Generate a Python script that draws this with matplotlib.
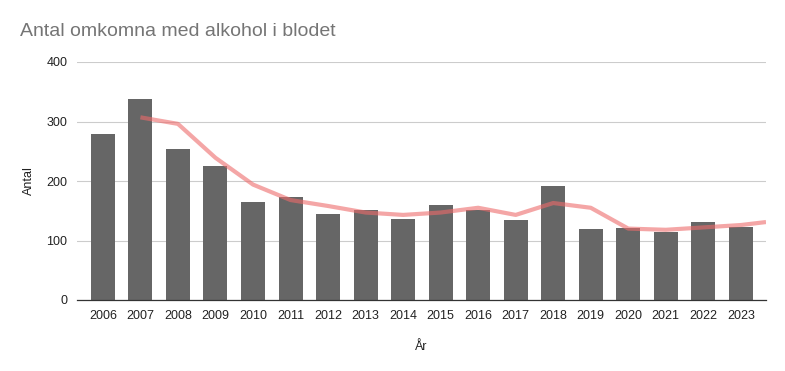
import matplotlib.pyplot as plt

plt.rcParams['font.family'] = ['Liberation Sans', 'DejaVu Sans']

years = ["2006", "2007", "2008", "2009", "2010", "2011", "2012", "2013", "2014",
         "2015", "2016", "2017", "2018", "2019", "2020", "2021", "2022", "2023"]
antal = [279, 338, 254, 225, 165, 173, 145, 151, 136,
         160, 151, 134, 192, 119, 121, 114, 131, 123]

# trendlinje (glidande medelvärde), avläst
trend_x = [1, 2, 3, 4, 5, 6, 7, 8, 9, 10, 11, 12, 13, 14, 15, 16, 17, 17.67]
trend_y = [307, 296, 239, 194, 168, 158, 147, 143, 147, 155, 143, 163, 155, 120, 118, 122, 126, 131]

fig = plt.figure(figsize=(7.85, 3.71), dpi=100)
ax = fig.add_axes([77/785, 1-300/371, (766-77)/785, (300-62)/371])

x = list(range(len(years)))
ax.bar(x, antal, width=0.64, color='#666666', zorder=2)
ax.plot(trend_x, trend_y, color='#ee6b6b', alpha=0.6, linewidth=3, zorder=3,
        solid_capstyle='butt')

ax.set_xlim(-0.69, 17.67)
ax.set_ylim(0, 400)
ax.set_yticks([0, 100, 200, 300, 400])
ax.set_xticks(x)
ax.set_xticklabels(years)
ax.grid(axis='y', color='#cccccc', linewidth=0.8, zorder=0)
ax.tick_params(length=0, labelsize=9, colors='#222222', pad=7)
for s in ['top', 'right', 'left']:
    ax.spines[s].set_visible(False)
ax.spines['bottom'].set_color('#333333')
ax.spines['bottom'].set_linewidth(0.9)
ax.spines['bottom'].set_zorder(4)

ax.set_ylabel("Antal", fontsize=9, color='#222222', labelpad=8)
ax.set_xlabel("År", fontsize=9, color='#222222', labelpad=14)

fig.text(20/785, 1-32/371, "Antal omkomna med alkohol i blodet", fontsize=14,
         color='#757575', va='center', ha='left')

fig.savefig("out.png", dpi=100)
